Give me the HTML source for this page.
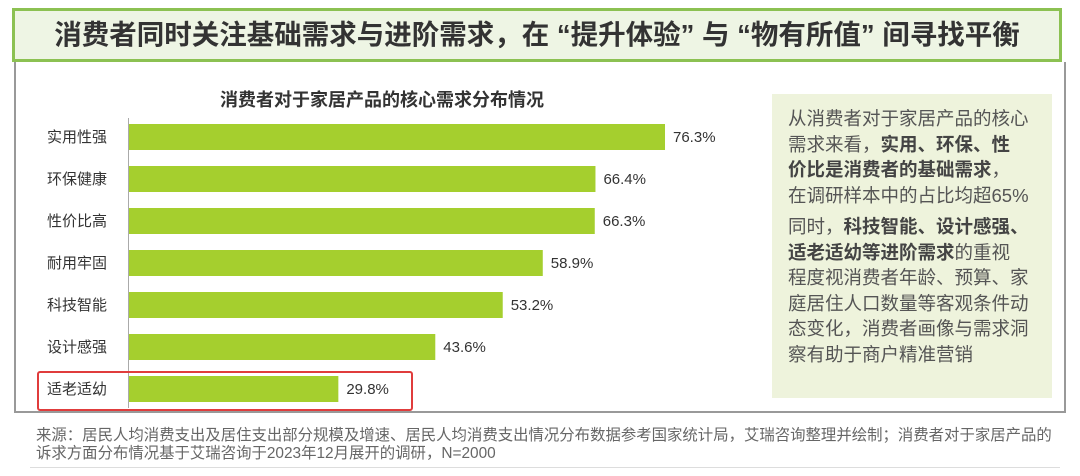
<!DOCTYPE html>
<html><head><meta charset="utf-8"><style>
body{margin:0;width:1080px;height:476px;background:#fff;font-family:"Liberation Sans","Noto Sans CJK SC",sans-serif;position:relative;overflow:hidden}
.abs{position:absolute}
#title{left:12px;top:8px;width:1050px;height:54px;border:3px solid #8cc152;background:#eef5e4;box-sizing:border-box;text-align:center;line-height:48px;font-size:27.5px;font-weight:bold;color:#333;white-space:nowrap}
#frame{left:14px;top:62px;width:1052px;height:351px;border:2px solid #999;border-top:none;box-sizing:border-box}
#side{left:772px;top:94px;width:280px;height:304px;background:#eef3dc;padding:12px 0 0 16px;box-sizing:border-box;font-size:18.5px;line-height:25.5px;color:#555;white-space:nowrap}
#side b{color:#444}
#foot{left:36px;top:427px;width:1040px;font-size:15.4px;line-height:18px;color:#666;white-space:nowrap}
</style></head><body>
<div id="title" class="abs">消费者同时关注基础需求与进阶需求，在 “提升体验” 与 “物有所值” 间寻找平衡</div>
<div id="frame" class="abs"></div>
<svg class="abs" style="left:0;top:0" width="770" height="420">
<text x="382" y="106" text-anchor="middle" font-size="18" font-weight="bold" fill="#333">消费者对于家居产品的核心需求分布情况</text>
<line x1="128.5" y1="118" x2="128.5" y2="408" stroke="#aaa"/>
<g id="bars"></g>
<rect x="38" y="372" width="374" height="38" fill="none" stroke="#e03c3c" stroke-width="2" rx="2"/>
</svg>
<div id="side" class="abs">从消费者对于家居产品的核心<br>需求来看，<b>实用、环保、性</b><br><b>价比是消费者的基础需求</b>，<br>在调研样本中的占比均超65%<div style="height:6px"></div>同时，<b>科技智能、设计感强、</b><br><b>适老适幼等进阶需求</b>的重视<br>程度视消费者年龄、预算、家<br>庭居住人口数量等客观条件动<br>态变化，消费者画像与需求洞<br>察有助于商户精准营销</div>
<div id="foot" class="abs">来源：居民人均消费支出及居住支出部分规模及增速、居民人均消费支出情况分布数据参考国家统计局，艾瑞咨询整理并绘制；消费者对于家居产品的<br>诉求方面分布情况基于艾瑞咨询于2023年12月展开的调研，N=2000</div>
<div class="abs" style="left:30px;top:467px;width:1030px;height:1px;background:#ddd"></div>
<script>
const categories=["实用性强","环保健康","性价比高","耐用牢固","科技智能","设计感强","适老适幼"];
const values=[76.3,66.4,66.3,58.9,53.2,43.6,29.8];
const x0=129,pxPer=7.025,yTop=137,step=42,bh=26;
const xs=v=>x0+v*pxPer, ys=i=>yTop+i*step;
const g=document.getElementById('bars'),NS='http://www.w3.org/2000/svg';
categories.forEach((c,i)=>{
 const r=document.createElementNS(NS,'rect');
 r.setAttribute('x',x0);r.setAttribute('y',ys(i)-bh/2);r.setAttribute('width',xs(values[i])-x0);r.setAttribute('height',bh);r.setAttribute('fill','#a5cf2e');
 
 
 g.appendChild(r);
 const t=document.createElementNS(NS,'text');
 t.setAttribute('x',47);t.setAttribute('y',ys(i)+5);t.setAttribute('font-size','15');t.setAttribute('fill','#333');t.textContent=c;
 
 
 g.appendChild(t);
 const v=document.createElementNS(NS,'text');
 v.setAttribute('x',xs(values[i])+8);v.setAttribute('y',ys(i)+5);v.setAttribute('font-size','15');v.setAttribute('fill','#333');v.textContent=values[i].toFixed(1)+'%';
 
 
 g.appendChild(v);
});
</script>
</body></html>
